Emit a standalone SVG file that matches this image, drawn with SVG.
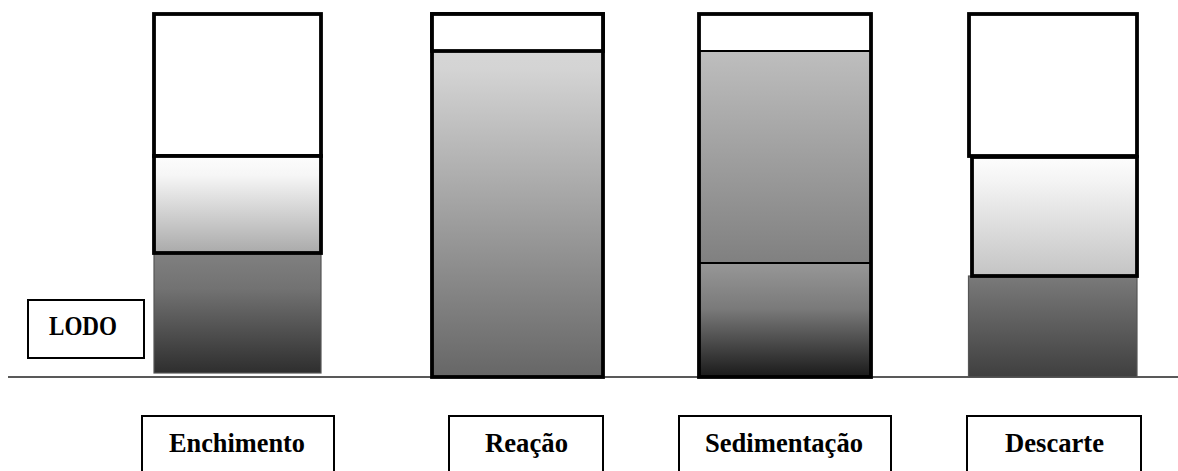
<svg xmlns="http://www.w3.org/2000/svg" width="1178" height="471" viewBox="0 0 1178 471">
<style>
.lbl{font-family:"Liberation Serif","Times New Roman",serif;font-weight:bold;font-size:27px;fill:#000;text-anchor:middle}
.box{fill:#fff;stroke:#000;stroke-width:2}
.thick{stroke:#000;stroke-width:3.8}
.thin{stroke:#000;stroke-width:2}
.grey{stroke:#555;stroke-width:1.2}
</style>
<defs>
<linearGradient id="gLight" x1="0" y1="0" x2="0" y2="1"><stop offset="0" stop-color="#fdfdfd"/><stop offset="0.2" stop-color="#f6f6f6"/><stop offset="1" stop-color="#aaaaaa"/></linearGradient>
<linearGradient id="gLight2" x1="0" y1="0" x2="0" y2="1"><stop offset="0" stop-color="#fdfdfd"/><stop offset="0.2" stop-color="#f4f4f4"/><stop offset="1" stop-color="#c4c4c4"/></linearGradient>
<linearGradient id="gDark" x1="0" y1="0" x2="0" y2="1"><stop offset="0" stop-color="#808080"/><stop offset="0.3" stop-color="#727272"/><stop offset="1" stop-color="#2e2e2e"/></linearGradient>
<linearGradient id="gDark2" x1="0" y1="0" x2="0" y2="1"><stop offset="0" stop-color="#7a7a7a"/><stop offset="1" stop-color="#3f3f3f"/></linearGradient>
<linearGradient id="gReac" x1="0" y1="0" x2="0" y2="1"><stop offset="0" stop-color="#dadada"/><stop offset="0.15" stop-color="#d4d4d4"/><stop offset="1" stop-color="#666666"/></linearGradient>
<linearGradient id="gSedU" x1="0" y1="0" x2="0" y2="1"><stop offset="0" stop-color="#bebebe"/><stop offset="1" stop-color="#808080"/></linearGradient>
<linearGradient id="gSedL" x1="0" y1="0" x2="0" y2="1"><stop offset="0" stop-color="#979797"/><stop offset="0.4" stop-color="#7a7a7a"/><stop offset="1" stop-color="#1a1a1a"/></linearGradient>
</defs>

<g id="ground">
<line x1="8" y1="377" x2="1178" y2="377" stroke="#222" stroke-width="1.5"/>
</g>

<g id="lodo">
<rect class="box" x="28" y="300" width="116" height="58"/>
<text class="lbl" x="83" y="335" font-size="24" textLength="68" lengthAdjust="spacingAndGlyphs">LODO</text>
</g>

<g id="enchimento">
<rect x="154" y="253" width="167" height="120" fill="url(#gDark)" class="grey"/>
<rect x="154" y="14" width="167" height="142" fill="#fff" class="thick"/>
<rect x="154" y="156" width="167" height="97" fill="url(#gLight)" class="thick"/>
</g>

<g id="reacao">
<rect x="432" y="14" width="171" height="363" fill="url(#gReac)" class="thick"/>
<rect x="432" y="14" width="171" height="37" fill="#fff" class="thick"/>
<line x1="432" y1="51" x2="603" y2="51" class="thin"/>
</g>

<g id="sedimentacao">
<rect x="699" y="51" width="172" height="212" fill="url(#gSedU)"/>
<rect x="699" y="263" width="172" height="114" fill="url(#gSedL)"/>
<rect x="699" y="14" width="172" height="37" fill="#fff"/>
<line x1="699" y1="51" x2="871" y2="51" class="thin"/>
<line x1="699" y1="263" x2="871" y2="263" class="thin"/>
<rect x="699" y="14" width="172" height="363" fill="none" class="thick"/>
</g>

<g id="descarte">
<rect x="968.5" y="276" width="168.5" height="101" fill="url(#gDark2)" class="grey"/>
<rect x="969" y="14" width="168" height="142" fill="#fff" class="thick"/>
<rect x="972" y="157" width="165" height="119" fill="url(#gLight2)" class="thick"/>
</g>

<g id="labels">
<g id="lbl-enchimento"><rect class="box" x="142" y="416" width="192" height="70"/><text class="lbl" x="237" y="452" textLength="136" lengthAdjust="spacingAndGlyphs">Enchimento</text></g>
<g id="lbl-reacao"><rect class="box" x="449" y="416" width="154" height="70"/><text class="lbl" x="526.5" y="452" textLength="83" lengthAdjust="spacingAndGlyphs">Reação</text></g>
<g id="lbl-sedimentacao"><rect class="box" x="679" y="416" width="212" height="70"/><text class="lbl" x="784" y="452" textLength="158" lengthAdjust="spacingAndGlyphs">Sedimentação</text></g>
<g id="lbl-descarte"><rect class="box" x="967" y="416" width="174" height="70"/><text class="lbl" x="1054.5" y="452" textLength="99" lengthAdjust="spacingAndGlyphs">Descarte</text></g>
</g>
</svg>
